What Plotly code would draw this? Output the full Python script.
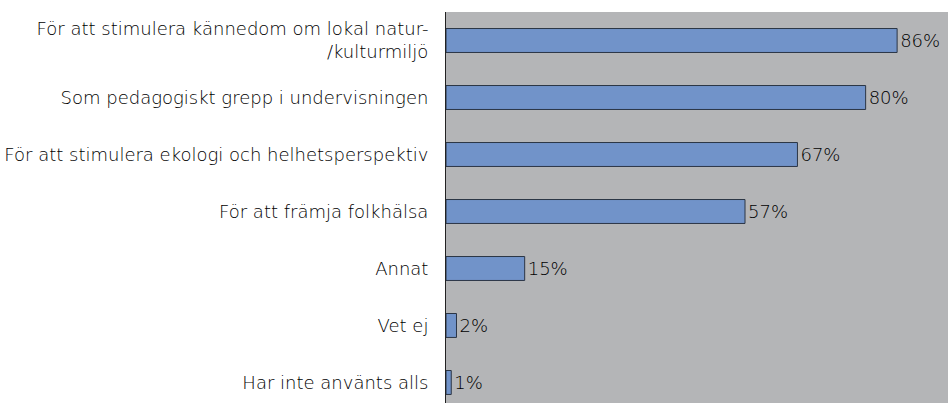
import plotly.graph_objects as go

categories = [
    "För att stimulera kännedom om lokal natur-<br>/kulturmiljö",
    "Som pedagogiskt grepp i undervisningen",
    "För att stimulera ekologi och helhetsperspektiv",
    "För att främja folkhälsa",
    "Annat",
    "Vet ej",
    "Har inte använts alls",
]
values = [86, 80, 67, 57, 15, 2, 1]
labels = [f"{v}%" for v in values]

fig = go.Figure(go.Bar(
    x=values, y=categories, orientation="h",
    marker=dict(color="#7193c9", line=dict(color="#2b3545", width=1)),
    width=0.42,
    text=labels, textposition="outside", cliponaxis=False,
    textfont=dict(size=18, color="#000000", weight=300),
))
fig.update_layout(
    width=948, height=403,
    margin=dict(l=446, r=0, t=12, b=0),
    paper_bgcolor="white", plot_bgcolor="#b4b5b7",
    font=dict(family="DejaVu Sans, sans-serif", size=18, color="#000000", weight=300),
    showlegend=False,
)
fig.update_xaxes(range=[0, 95.7], showgrid=False, showticklabels=False, zeroline=False,
                 showline=False, ticks="", automargin=False)
fig.update_yaxes(type="category", range=[6.36, -0.5], showgrid=False, showline=True,
                 linecolor="#222222", linewidth=1, ticks="", ticklabelstandoff=13,
                 automargin=False, tickfont=dict(weight=300, color="#000000"))
fig.write_html(
    "out.html",
    config={"displayModeBar": False},
    post_script="document.body.style.margin='0';document.body.style.overflow='hidden';",
)
